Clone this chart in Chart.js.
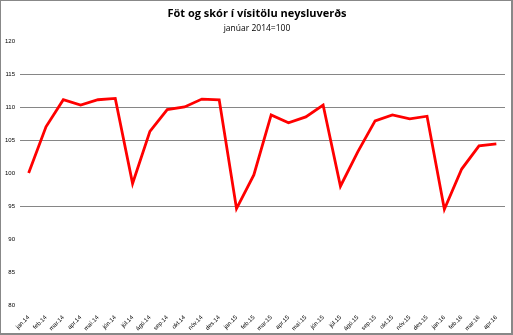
<!DOCTYPE html>
<html>
<head>
<meta charset="utf-8">
<script src="https://cdn.jsdelivr.net/npm/chart.js@4"></script>
<style>
body{margin:0;background:#fff;}
#wrap{position:relative;width:510px;height:332px;border-style:solid;border-color:#888;border-width:1px 2px 2px 1px;}
canvas{position:absolute;left:-1px;top:-1px;}
</style>
</head>
<body>
<div id="wrap"><canvas id="chart" width="513" height="335"></canvas></div>
<script>
let months = ["jan.14","feb.14","mar.14","apr.14","maí.14","jún.14","júl.14","ágú.14","sep.14","okt.14","nóv.14","des.14",
"jan.15","feb.15","mar.15","apr.15","maí.15","jún.15","júl.15","ágú.15","sep.15","okt.15","nóv.15","des.15",
"jan.16","feb.16","mar.16","apr.16"];

let index = [100.0,107.0,111.1,110.3,111.1,111.3,98.4,106.3,109.6,110.0,111.2,111.1,
94.6,99.7,108.8,107.6,108.5,110.3,98.0,103.2,107.9,108.8,108.2,108.6,
94.5,100.6,104.1,104.4];

let gridValues = [95,105,110,115];

let mainTitle = "Föt og skór í vísitölu neysluverðs";
let subTitle = "janúar 2014=100";

// title and subtitle drawn on top of the canvas
const titles = {
id:'titles',
afterDraw(chart){
let c = chart.ctx;
c.save();
c.fillStyle = '#000';
c.textAlign = 'center';
c.textBaseline = 'middle';
c.font = 'bold 11px "Open Sans"';
c.fillText(mainTitle, 257, 14);
c.font = '8.5px "Open Sans"';
c.fillText(subTitle, 257, 29);
c.restore();
}
};

let ctx = document.getElementById('chart').getContext('2d');

new Chart(ctx,{
type:'line',
data:{
labels:months,
datasets:[{
data:index,
borderColor:'#ff0000',
borderWidth:2.8,
pointRadius:0,
tension:0,
fill:false
}]
},
options:{
responsive:false,
animation:false,
layout:{padding:{top:41,left:0,right:8,bottom:4}},
plugins:{
legend:{display:false},
tooltip:{enabled:false}
},
scales:{
x:{
offset:true,
grid:{display:false},
border:{display:false},
ticks:{
autoSkip:false,
minRotation:45,
maxRotation:45,
padding:1,
color:'#000',
font:{family:'"Liberation Sans"',size:6}
},
afterFit(scale){ scale.height = 26; }
},
y:{
min:80,
max:120,
grid:{
drawTicks:false,
lineWidth:1,
color(c){ return gridValues.includes(c.tick.value) ? '#868686' : 'rgba(0,0,0,0)'; }
},
border:{display:false},
ticks:{
stepSize:5,
padding:5,
color:'#000',
font:{family:'"Liberation Sans"',size:6}
},
afterFit(scale){ scale.width = 20; }
}
}
},
plugins:[titles]
});
</script>
</body>
</html>
